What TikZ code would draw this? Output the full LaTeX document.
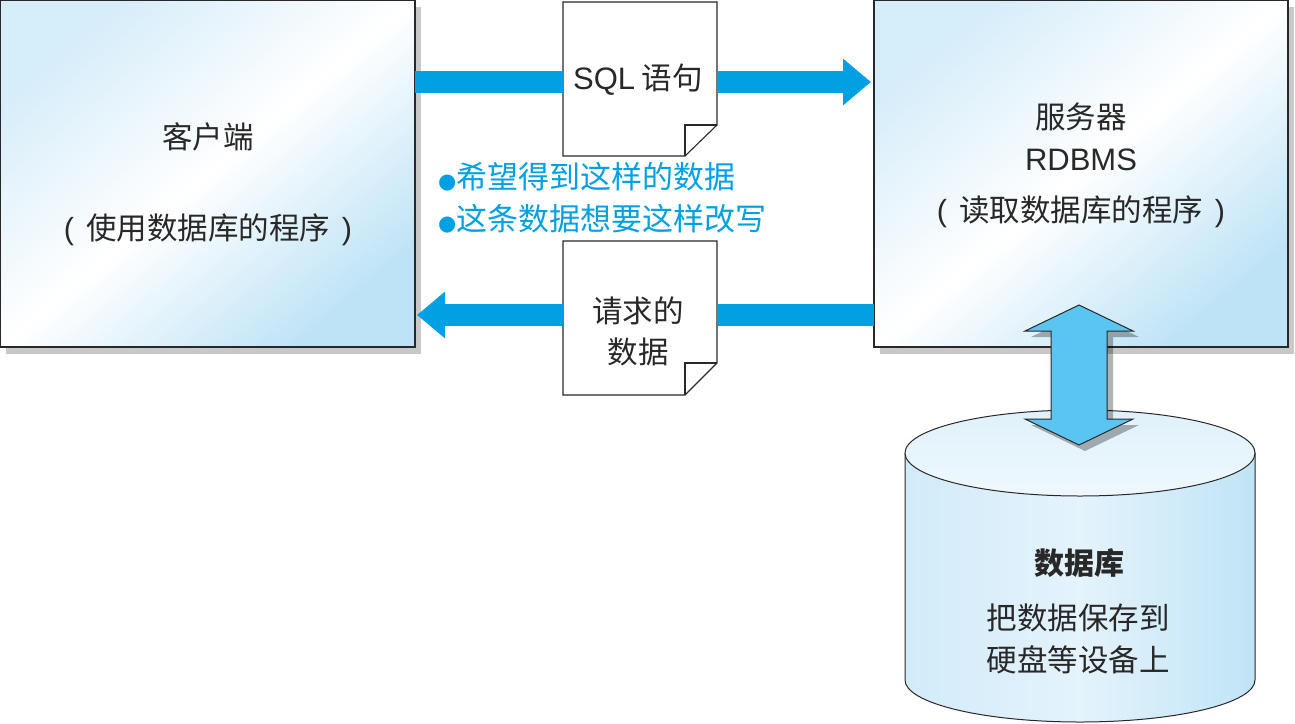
\documentclass[tikz,border=0pt]{standalone}
\usepackage{fontspec}
\setmainfont{Liberation Sans}
\newfontfamily\cjk{Noto Sans CJK SC}
\newfontfamily\dvs{DejaVu Sans}
\usetikzlibrary{arrows.meta,shapes.geometric}
\definecolor{boxA}{RGB}{214,237,250}
\definecolor{boxB}{RGB}{190,227,246}
\definecolor{cyanband}{RGB}{0,160,226}
\definecolor{darrow}{RGB}{91,197,242}
\definecolor{shadowgray}{RGB}{200,200,200}
\definecolor{edge}{RGB}{40,40,40}
\definecolor{cylA}{RGB}{210,235,249}
\definecolor{cylM}{RGB}{228,243,252}
\definecolor{cylB}{RGB}{192,228,246}
\tikzset{
  txt/.style={font=\fontsize{30.5}{41}\selectfont\cjk, text=edge, align=center, inner sep=0pt},
  bluetxt/.style={font=\fontsize{31}{34}\selectfont\cjk, text=cyanband, anchor=west, inner sep=0pt},
  panel/.style={draw=edge, line width=1.2pt, top color=boxA, bottom color=boxB, middle color=white, shading angle=40},
  panelshadow/.style={fill=shadowgray, draw=none},
  docshape/.style={draw=edge, line width=1.1pt, fill=white},
  band/.style={line width=22pt, draw=cyanband},
  bandtip/.style={-{Triangle[length=28pt,width=45pt]}},
}
\begin{document}
\begin{tikzpicture}[x=1pt,y=-1pt]
\useasboundingbox (0,0) rectangle (1295,723);
% shadows of panels
\fill[panelshadow] (6,7) rectangle (421,354);
\fill[panelshadow] (880,7) rectangle (1294,354);
% panels
\shade[panel] (0.6,0.6) rectangle (415,347);
\shade[panel] (874,0.6) rectangle (1288,347);
\node[coordinate] (client) at (207.5,173.5) {};
\node[coordinate] (server) at (1081,173.5) {};
\node[txt] (clientT1) at (208,137) {客户端};
\node[txt] (clientT2) at (208,230) {{\fontspec{Liberation Sans}(\,} 使用数据库的程序 {\fontspec{Liberation Sans}\,)}};
\node[txt] (serverT1) at (1081,117) {服务器};
\node[txt, font=\fontsize{31}{40}\selectfont] (serverT2) at (1081,160) {RDBMS};
\node[txt] (serverT3) at (1081,212) {{\fontspec{Liberation Sans}(\,} 读取数据库的程序 {\fontspec{Liberation Sans}\,)}};
% documents
\draw[docshape] (563,2) -- (717,2) -- (717,125) -- (685,156) -- (563,156) -- cycle;
\draw[docshape, fill=none] (685,156) -- (685,125) -- (717,125);
\node[coordinate] (doc1) at (640,79) {};
\draw[docshape] (563,241) -- (717,241) -- (717,363) -- (685,395) -- (563,395) -- cycle;
\draw[docshape, fill=none] (685,395) -- (685,363) -- (717,363);
\node[coordinate] (doc2) at (640,318) {};
\node[txt] (sql) at (638,80) {{\fontspec{Liberation Sans}\fontsize{31}{40}\selectfont SQL} 语句};
\node[txt] (req) at (638,331) {请求的\\数据};
% bands
\draw[band] (415,82) -- (563,82);
\draw[band, bandtip] (717,82) -- (871,82);
\draw[band] (874,315) -- (717,315);
\draw[band, bandtip] (563,315) -- (417,315);
% blue text
\node[bluetxt] (b1) at (438,177) {{\dvs\fontsize{21}{21}\selectfont ●}希望得到这样的数据};
\node[bluetxt] (b2) at (438,219) {{\dvs\fontsize{21}{21}\selectfont ●}这条数据想要这样改写};
% cylinder
\path[draw=edge, line width=1pt, left color=cylA, right color=cylB, middle color=cylM]
  (905,453) -- (905,680) arc[start angle=180, end angle=0, x radius=175, y radius=42] -- (1255,453) -- cycle;
\path[draw=edge, line width=1pt, top color=cylA!70!white, bottom color=cylM!60!white]
  (1080,453) ellipse[x radius=175, y radius=43];
\node[coordinate] (db) at (1080,560) {};
\node[txt, font=\fontsize{30}{40}\selectfont\cjk\bfseries] (dbT1) at (1079,563) {数据库};
\node[txt] (dbT2) at (1078,618) {把数据保存到};
\node[txt] (dbT3) at (1078,660) {硬盘等设备上};
% double arrow
\fill[black, opacity=0.3] (1085,311) -- (1139,337) -- (1113,337) -- (1113,425) -- (1139,425) -- (1085,451) -- (1031,425) -- (1058,425) -- (1058,337) -- (1031,337) -- cycle;
\draw[draw=edge, line width=1pt, fill=darrow] (1079,305) -- (1133,331) -- (1107,331) -- (1107,419) -- (1133,419) -- (1079,445) -- (1025,419) -- (1051,419) -- (1051,331) -- (1025,331) -- cycle;
\end{tikzpicture}
\end{document}
